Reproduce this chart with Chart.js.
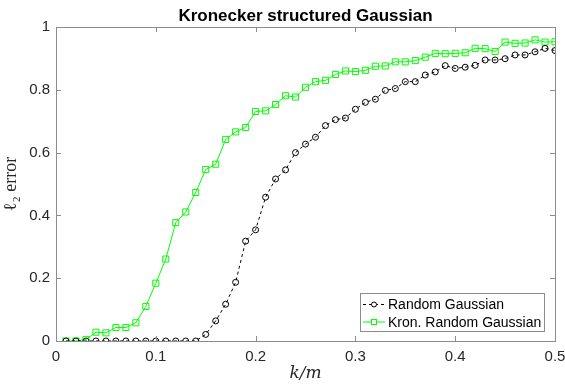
<!DOCTYPE html>
<html>
<head>
<meta charset="utf-8">
<script src="https://cdn.jsdelivr.net/npm/chart.js@4/dist/chart.umd.min.js"></script>
<style>
  html, body { margin: 0; padding: 0; background: #fff; }
  #wrap { width: 565px; height: 384px; }
</style>
</head>
<body>
<div id="wrap"><canvas id="chart" width="565" height="384"></canvas></div>
<script>
// k/m sample points
const ratios = [0.01, 0.02, 0.03, 0.04, 0.05, 0.06, 0.07, 0.08, 0.09, 0.10,
                0.11, 0.12, 0.13, 0.14, 0.15, 0.16, 0.17, 0.18, 0.19, 0.20,
                0.21, 0.22, 0.23, 0.24, 0.25, 0.26, 0.27, 0.28, 0.29, 0.30,
                0.31, 0.32, 0.33, 0.34, 0.35, 0.36, 0.37, 0.38, 0.39, 0.40,
                0.41, 0.42, 0.43, 0.44, 0.45, 0.46, 0.47, 0.48, 0.49, 0.50];

// l2 error, random Gaussian
const randomGaussian = [0, 0, 0, 0, 0, 0, 0, 0, 0, 0,
                        0, 0, 0, 0, 0.021, 0.064, 0.117, 0.187, 0.318, 0.354,
                        0.458, 0.516, 0.545, 0.600, 0.627, 0.649, 0.686, 0.705, 0.710, 0.738,
                        0.760, 0.770, 0.798, 0.804, 0.826, 0.826, 0.847, 0.857, 0.877, 0.868,
                        0.872, 0.878, 0.895, 0.895, 0.899, 0.911, 0.911, 0.921, 0.932, 0.925];

// l2 error, Kronecker random Gaussian
const kronGaussian = [0, 0, 0.005, 0.028, 0.026, 0.043, 0.043, 0.058, 0.110, 0.184,
                      0.261, 0.377, 0.411, 0.473, 0.546, 0.563, 0.642, 0.666, 0.680, 0.731,
                      0.733, 0.753, 0.781, 0.777, 0.808, 0.826, 0.830, 0.849, 0.860, 0.858,
                      0.862, 0.875, 0.876, 0.889, 0.889, 0.893, 0.904, 0.916, 0.915, 0.916,
                      0.918, 0.932, 0.931, 0.922, 0.952, 0.948, 0.949, 0.959, 0.952, 0.953];

const xTicks = [0, 0.1, 0.2, 0.3, 0.4, 0.5];
const yTicks = [0, 0.2, 0.4, 0.6, 0.8, 1];
const seriesNames = ['Random Gaussian', 'Kron. Random Gaussian'];
const chartTitle = 'Kronecker structured Gaussian';

const toPoints = ys => ratios.map((x, i) => ({ x: x, y: ys[i] }));

// Title centred over the plot area (not the whole canvas)
const titlePlugin = {
  id: 'axesTitle',
  afterDraw(chart) {
    const { ctx, chartArea: a } = chart;
    ctx.save();
    ctx.font = 'bold 17px "Liberation Sans", Arial, sans-serif';
    ctx.fillStyle = '#000';
    ctx.textAlign = 'center';
    ctx.textBaseline = 'alphabetic';
    ctx.fillText(chartTitle, (a.left + a.right) / 2, 21);
    ctx.restore();
  }
};

// Box around the plot with inward ticks on all four sides
const boxPlugin = {
  id: 'box',
  afterDatasetsDraw(chart) {
    const { ctx, chartArea: a, scales } = chart;
    ctx.save();
    ctx.strokeStyle = '#8c8c8c';
    ctx.lineWidth = 1;
    ctx.strokeRect(Math.round(a.left) + 0.5, Math.round(a.top) + 0.5,
                   Math.round(a.right - a.left), Math.round(a.bottom - a.top));
    ctx.beginPath();
    const len = 5;
    xTicks.forEach(v => {
      const px = Math.round(scales.x.getPixelForValue(v)) + 0.5;
      ctx.moveTo(px, a.bottom); ctx.lineTo(px, a.bottom - len);
      ctx.moveTo(px, a.top); ctx.lineTo(px, a.top + len);
    });
    yTicks.forEach(v => {
      const py = Math.round(scales.y.getPixelForValue(v)) + 0.5;
      ctx.moveTo(a.left, py); ctx.lineTo(a.left + len, py);
      ctx.moveTo(a.right, py); ctx.lineTo(a.right - len, py);
    });
    ctx.stroke();
    ctx.restore();
  }
};

// Legend drawn inside the plot, bottom right
const legendPlugin = {
  id: 'innerLegend',
  afterDraw(chart) {
    const { ctx, chartArea: a } = chart;
    const w = 184, h = 38;
    const x0 = Math.round(a.right - 11 - w), y0 = Math.round(a.bottom - 10 - h);
    ctx.save();
    ctx.fillStyle = '#fff';
    ctx.fillRect(x0, y0, w, h);
    ctx.strokeStyle = '#8c8c8c';
    ctx.lineWidth = 1;
    ctx.strokeRect(x0 + 0.5, y0 + 0.5, w, h);
    ctx.font = '14px "Liberation Sans", Arial, sans-serif';
    ctx.textBaseline = 'middle';
    chart.data.datasets.forEach((ds, i) => {
      const cy = y0 + 11.5 + i * 17.5;
      ctx.strokeStyle = ds.borderColor;
      ctx.setLineDash(ds.borderDash || []);
      ctx.beginPath();
      ctx.moveTo(x0 + 3, cy); ctx.lineTo(x0 + 25, cy);
      ctx.stroke();
      ctx.setLineDash([]);
      ctx.fillStyle = '#fff';
      if (ds.pointStyle === 'rect') {
        ctx.fillRect(x0 + 11.5, cy - 2.5, 5, 5);
        ctx.strokeRect(x0 + 11.5, cy - 2.5, 5, 5);
      } else {
        ctx.beginPath();
        ctx.arc(x0 + 14, cy, 2.5, 0, Math.PI * 2);
        ctx.fill();
        ctx.stroke();
      }
      ctx.fillStyle = '#000';
      ctx.fillText(ds.label, x0 + 28, cy + 1);
    });
    ctx.restore();
  }
};

const tickFont = { family: '"Liberation Sans", Arial, sans-serif', size: 15 };

new Chart(document.getElementById('chart'), {
  type: 'line',
  data: {
    datasets: [
      {
        label: seriesNames[0],
        data: toPoints(randomGaussian),
        borderColor: '#000000',
        backgroundColor: 'rgba(0,0,0,0)',
        borderWidth: 1,
        borderDash: [3, 3],
        pointStyle: 'circle',
        pointRadius: 3,
        pointBorderWidth: 1,
        pointBackgroundColor: 'rgba(0,0,0,0)',
        tension: 0
      },
      {
        label: seriesNames[1],
        data: toPoints(kronGaussian),
        borderColor: '#00ff00',
        backgroundColor: 'rgba(0,0,0,0)',
        borderWidth: 1,
        pointStyle: 'rect',
        pointRadius: 4.3,
        pointBorderWidth: 1,
        pointBackgroundColor: 'rgba(0,0,0,0)',
        tension: 0
      }
    ]
  },
  options: {
    responsive: false,
    animation: false,
    layout: { padding: { left: 0, right: 10, top: 27, bottom: 0 } },
    plugins: {
      legend: { display: false },
      tooltip: { enabled: false },
      title: { display: false }
    },
    scales: {
      x: {
        type: 'linear',
        min: 0, max: 0.5,
        afterBuildTicks: s => { s.ticks = xTicks.map(v => ({ value: v })); },
        afterFit: s => { s.height = 43; s.paddingLeft = 0; s.paddingRight = 0; },
        grid: { display: false, drawTicks: false },
        border: { display: false },
        ticks: { color: '#262626', font: tickFont, padding: 7, maxRotation: 0, callback: v => String(v) },
        title: {
          display: true,
          text: 'k/m',
          color: '#262626',
          font: { family: '"DejaVu Serif", serif', size: 17, style: 'italic' },
          padding: { top: 0, bottom: 0 }
        }
      },
      y: {
        type: 'linear',
        min: 0, max: 1,
        afterBuildTicks: s => { s.ticks = yTicks.map(v => ({ value: v })); },
        afterFit: s => { s.width = 56; s.paddingTop = 0; s.paddingBottom = 0; },
        grid: { display: false, drawTicks: false },
        border: { display: false },
        ticks: { color: '#262626', font: tickFont, padding: 6, callback: v => String(v) },
        title: {
          display: true,
          text: 'ℓ₂ error',
          color: '#262626',
          font: { family: '"Liberation Serif", "DejaVu Serif", serif', size: 18 },
          padding: { top: 0, bottom: 2 }
        }
      }
    }
  },
  plugins: [boxPlugin, legendPlugin, titlePlugin]
});
</script>
</body>
</html>
